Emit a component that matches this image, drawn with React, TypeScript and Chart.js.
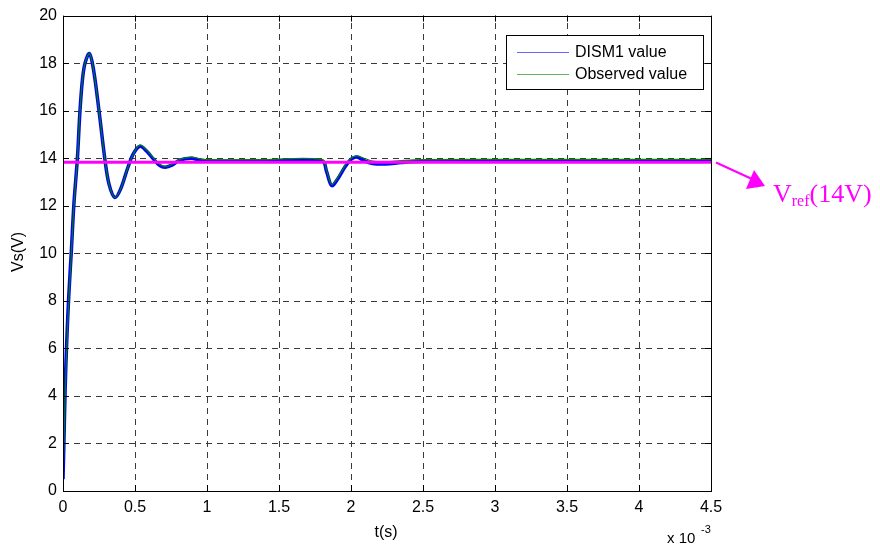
import React, { useEffect, useRef } from "react";
import { Chart, registerables } from "chart.js";

Chart.register(...registerables);

// time in units of 1e-3 s
const tObs = [0, 0.007, 0.015, 0.026, 0.04, 0.058, 0.076, 0.1, 0.118, 0.135, 0.153, 0.183, 0.21, 0.25, 0.29, 0.32, 0.36, 0.4, 0.45, 0.49, 0.535, 0.58, 0.63, 0.67, 0.71, 0.76, 0.81, 0.89, 0.95, 1.0, 1.4, 1.8, 1.83, 1.866, 1.91, 1.96, 2.0, 2.04, 2.09, 2.15, 2.24, 2.35, 2.5, 3.0, 3.5, 4.0, 4.5];
const vObserved = [0.5, 2, 4, 6, 8, 10, 12, 14, 16, 17.3, 18, 18.4, 17.8, 16, 14, 12.9, 12.35, 12.7, 13.6, 14.2, 14.55, 14.35, 14.0, 13.75, 13.65, 13.75, 13.95, 14.05, 13.97, 13.94, 13.94, 13.94, 13.5, 12.9, 13.2, 13.7, 14.0, 14.1, 14.0, 13.88, 13.85, 13.9, 13.94, 13.95, 13.95, 13.95, 13.95];
const vDism = [0.5, 2.2, 4.3, 6.3, 8.2, 10.1, 12.1, 14, 16, 17.3, 18, 18.4, 17.8, 16, 14, 12.9, 12.35, 12.7, 13.6, 14.2, 14.5, 14.3, 13.95, 13.7, 13.62, 13.72, 13.92, 14.0, 13.92, 13.88, 13.88, 13.88, 13.45, 12.85, 13.15, 13.65, 13.95, 14.05, 13.9, 13.78, 13.76, 13.82, 13.87, 13.88, 13.88, 13.88, 13.88];
const tRef = [0, 4.5];
const vRef = [13.83, 13.83];
const xTicks = [0, 0.5, 1, 1.5, 2, 2.5, 3, 3.5, 4, 4.5];
const yTicks = [0, 2, 4, 6, 8, 10, 12, 14, 16, 18, 20];
const legendLabels = ["DISM1 value", "Observed value"];

const BLUE = "#0000ff";
const GREEN = "#008000";
const MAGENTA = "#ff00ff";
const SANS = "'Liberation Sans', Arial, sans-serif";
const SERIF = "'Liberation Serif', 'Times New Roman', serif";

export default function App() {
  const ref = useRef<HTMLCanvasElement>(null);
  useEffect(() => {
    if (!ref.current) return;
    const toPts = (xs: number[], ys: number[]) => xs.map((x, i) => ({ x, y: ys[i] }));
    const gridPlugin = {
      id: "dashgrid",
      beforeDatasetsDraw(chart: any) {
        const ctx = chart.ctx;
        const a = chart.chartArea;
        const xs = chart.scales.x, ys = chart.scales.y;
        ctx.save();
        ctx.strokeStyle = "#3a3a3a";
        ctx.lineWidth = 1;
        ctx.setLineDash([6, 5]);
        xTicks.forEach((t) => {
          const px = Math.round(xs.getPixelForValue(t)) + 0.5;
          if (t === 0 || t === 4.5) return;
          ctx.beginPath(); ctx.moveTo(px, a.bottom); ctx.lineTo(px, a.top); ctx.stroke();
        });
        yTicks.forEach((t) => {
          const py = Math.round(ys.getPixelForValue(t)) + 0.5;
          if (t === 0 || t === 20) return;
          ctx.beginPath(); ctx.moveTo(a.left, py); ctx.lineTo(a.right, py); ctx.stroke();
        });
        ctx.restore();
      },
    };
    const overlay = {
      id: "overlay",
      afterDraw(chart: any) {
        const ctx = chart.ctx;
        const a = chart.chartArea;
        ctx.save();
        // box
        ctx.strokeStyle = "#000";
        ctx.lineWidth = 1;
        ctx.strokeRect(Math.round(a.left) + 0.5, Math.round(a.top) + 0.5, Math.round(a.right - a.left), Math.round(a.bottom - a.top));
        // inner tick marks
        const xs = chart.scales.x, ys = chart.scales.y;
        ctx.beginPath();
        xTicks.forEach((t) => {
          const px = Math.round(xs.getPixelForValue(t)) + 0.5;
          ctx.moveTo(px, a.bottom); ctx.lineTo(px, a.bottom - 6);
          ctx.moveTo(px, a.top); ctx.lineTo(px, a.top + 6);
        });
        yTicks.forEach((t) => {
          const py = Math.round(ys.getPixelForValue(t)) + 0.5;
          ctx.moveTo(a.left, py); ctx.lineTo(a.left + 6, py);
          ctx.moveTo(a.right, py); ctx.lineTo(a.right - 6, py);
        });
        ctx.stroke();
        // legend
        const lx = 506, ly = 35, lw = 197, lh = 54;
        ctx.fillStyle = "#fff";
        ctx.fillRect(lx, ly, lw, lh);
        ctx.strokeStyle = "#000";
        ctx.strokeRect(lx + 0.5, ly + 0.5, lw, lh);
        ctx.font = `16px ${SANS}`;
        ctx.textBaseline = "middle";
        ctx.textAlign = "left";
        [BLUE, GREEN].forEach((c, i) => {
          const yy = ly + 17 + i * 22;
          ctx.strokeStyle = c;
          ctx.globalAlpha = 0.6;
          ctx.beginPath(); ctx.moveTo(517, yy + 0.5); ctx.lineTo(569, yy + 0.5); ctx.stroke();
          ctx.globalAlpha = 1;
          ctx.fillStyle = "#000";
          ctx.fillText(legendLabels[i], 575, yy + 1);
        });
        // axis titles
        ctx.fillStyle = "#000";
        ctx.textAlign = "center";
        ctx.fillText("t(s)", 386, 533);
        ctx.save();
        ctx.translate(19, 252);
        ctx.rotate(-Math.PI / 2);
        ctx.fillText("Vs(V)", 0, 0);
        ctx.restore();
        ctx.textAlign = "left";
        ctx.textBaseline = "alphabetic";
        ctx.font = `15px ${SANS}`;
        ctx.fillText("x 10", 667, 543);
        ctx.font = `11px ${SANS}`;
        ctx.fillText("-3", 701, 533);
        // arrow annotation
        ctx.strokeStyle = MAGENTA;
        ctx.fillStyle = MAGENTA;
        ctx.lineWidth = 2;
        ctx.beginPath(); ctx.moveTo(716, 162.5); ctx.lineTo(752, 179); ctx.stroke();
        ctx.beginPath();
        ctx.moveTo(765, 186);
        ctx.lineTo(746, 189);
        ctx.lineTo(754, 170);
        ctx.closePath();
        ctx.fill();
        ctx.font = `26px ${SERIF}`;
        ctx.fillText("V", 773, 202);
        const vw = ctx.measureText("V").width;
        ctx.font = `16px ${SERIF}`;
        ctx.fillText("ref", 773 + vw, 206);
        const rw = ctx.measureText("ref").width;
        ctx.font = `26px ${SERIF}`;
        ctx.fillText("(14V)", 773 + vw + rw, 202);
        ctx.restore();
      },
    };
    const chart = new Chart(ref.current, {
      type: "line",
      data: {
        datasets: [
          { label: "DISM1 value", data: toPts(tObs, vDism), borderColor: BLUE, borderWidth: 3.5, pointRadius: 0, tension: 0.35, order: 3 },
          { label: "Observed value", data: toPts(tObs, vObserved), borderColor: GREEN, borderWidth: 1.2, pointRadius: 0, tension: 0.35, order: 2 },
          { label: "Vref", data: toPts(tRef, vRef), borderColor: MAGENTA, borderWidth: 3, pointRadius: 0, order: 1 },
        ],
      },
      options: {
        animation: false,
        responsive: false,
        maintainAspectRatio: false,
        layout: { padding: { left: 0, top: 15, right: 169, bottom: 0 } },
        plugins: { legend: { display: false }, tooltip: { enabled: false } },
        scales: {
          x: {
            type: "linear",
            min: 0,
            max: 4.5,
            afterBuildTicks: (s: any) => { s.ticks = xTicks.map((v) => ({ value: v })); },
            afterFit: (s: any) => { s.height = 58; },
            ticks: { color: "#000", font: { family: SANS, size: 16 }, padding: 7, maxRotation: 0, callback: (v: any) => String(v) },
            grid: { display: false, drawTicks: false },
            border: { display: false },
          },
          y: {
            min: 0,
            max: 20,
            afterBuildTicks: (s: any) => { s.ticks = yTicks.map((v) => ({ value: v })); },
            afterFit: (s: any) => { s.width = 63; },
            ticks: { color: "#000", font: { family: SANS, size: 16 }, padding: 6, callback: (v: any) => String(v) },
            grid: { display: false, drawTicks: false },
            border: { display: false },
          },
        },
      },
      plugins: [gridPlugin, overlay],
    } as any);
    return () => chart.destroy();
  }, []);
  return (
    <div style={{ position: "absolute", left: 0, top: 0, width: 880, height: 549, background: "#fff" }}>
      <canvas ref={ref} width={880} height={549} />
    </div>
  );
}
